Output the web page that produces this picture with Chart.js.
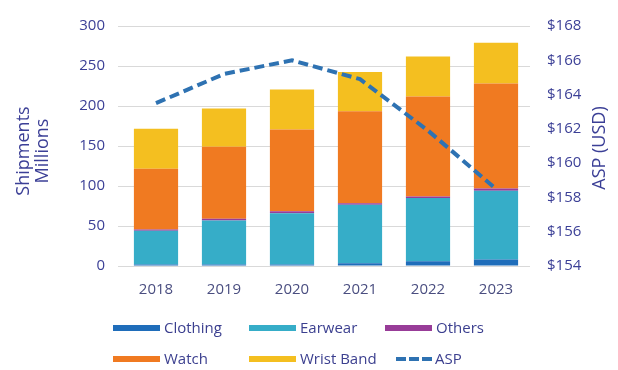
<!DOCTYPE html>
<html><head><meta charset="utf-8">
<script src="https://cdn.jsdelivr.net/npm/chart.js@4.4.1/dist/chart.umd.min.js"></script>
<style>
html,body{margin:0;padding:0;background:#fff;}
#wrap{position:relative;width:618px;height:370px;overflow:hidden;background:#fff;}
canvas{position:absolute;left:0;top:0;}
.lt{position:absolute;font-family:'Open Sans';font-size:15px;color:#3b3f8f;white-space:nowrap;line-height:20px;}
.sw{position:absolute;height:6px;width:47px;}
.dash{position:absolute;height:4px;width:10px;}
</style></head><body>
<div id="wrap"><canvas id="c" width="618" height="370"></canvas><div id="legend"></div></div>
<script>
// ---- data ----
const categories = ['2018', '2019', '2020', '2021', '2022', '2023'];
const clothing   = [2, 2, 2, 3.5, 6, 8];
const earwear    = [42, 55, 64, 73, 79, 86];
const others     = [1.5, 2, 2.5, 2, 2, 3];
const watch      = [76, 90, 102, 115, 125, 131];
const wristBand  = [50, 48, 50, 49, 50, 51];
const asp        = [163.5, 165.2, 166.0, 164.9, 161.9, 158.5];
const shipmentRange = [0, 300, 50];
const aspRange      = [154, 168, 2];

const C = {clothing:'#1f6dba', earwear:'#36adc8', others:'#983c98', watch:'#f07a21', wrist:'#f4bf20', asp:'#2e72b2'};
const TXT = '#3b3f96';

function bar(label, data, color){
  return {type:'bar', label, data, backgroundColor:color, borderWidth:0, yAxisID:'y', stack:'s', order:1,
          barPercentage:0.65, categoryPercentage:1};
}

const titlePlugin = {
  id:'axisTitles',
  afterDraw(chart){
    const ctx = chart.ctx, a = chart.chartArea;
    const cy = (a.top + a.bottom)/2 + 5;
    ctx.save();
    ctx.fillStyle = TXT;
    ctx.font = "18px 'Open Sans'";
    ctx.textAlign = 'center';
    ctx.textBaseline = 'middle';
    ctx.save(); ctx.translate(24, cy); ctx.rotate(-Math.PI/2); ctx.fillText('Shipments', 0, 0); ctx.restore();
    ctx.save(); ctx.translate(43, cy); ctx.rotate(-Math.PI/2); ctx.fillText('Millions', 0, 0); ctx.restore();
    ctx.save(); ctx.translate(600, cy - 3); ctx.rotate(-Math.PI/2); ctx.fillText('ASP (USD)', 0, 0); ctx.restore();
    ctx.restore();
  }
};

function build(){
  new Chart(document.getElementById('c'), {
    data:{
      labels: categories,
      datasets:[
        bar('Clothing', clothing, C.clothing),
        bar('Earwear', earwear, C.earwear),
        bar('Others', others, C.others),
        bar('Watch', watch, C.watch),
        bar('Wrist Band', wristBand, C.wrist),
        {type:'line', label:'ASP', data:asp, yAxisID:'y1', order:0, borderColor:C.asp, borderWidth:4,
         borderDash:[10,5], pointRadius:0, tension:0, fill:false}
      ]
    },
    options:{
      responsive:false, animation:false,
      layout:{padding:{left:0,right:0,top:17,bottom:0}},
      plugins:{legend:{display:false}, tooltip:{enabled:false}},
      scales:{
        x:{
          stacked:true,
          grid:{display:false, drawTicks:false},
          border:{display:false},
          ticks:{color:'#4a4e80', font:{family:'Open Sans', size:15}, padding:15},
          afterFit(s){ s.height = 104; }
        },
        y:{
          position:'left', stacked:true,
          min:shipmentRange[0], max:shipmentRange[1],
          grid:{color:'#d9d9d9', lineWidth:1, tickLength:4, tickColor:'#d9d9d9'},
          border:{display:false},
          ticks:{stepSize:shipmentRange[2], color:TXT, font:{family:'Open Sans', size:15}, padding:13},
          afterFit(s){ s.width = 122; }
        },
        y1:{
          position:'right',
          min:aspRange[0], max:aspRange[1],
          grid:{display:false, drawTicks:false},
          border:{display:false},
          ticks:{stepSize:aspRange[2], color:TXT, font:{family:'Open Sans', size:15}, padding:17,
                 callback:v => '$' + v},
          afterFit(s){ s.width = 88; }
        }
      }
    },
    plugins:[titlePlugin]
  });

  // legend (HTML)
  const items = [
    {label:'Clothing', color:C.clothing, x:113, row:0},
    {label:'Earwear', color:C.earwear, x:249, row:0},
    {label:'Others', color:C.others, x:385, row:0},
    {label:'Watch', color:C.watch, x:113, row:1},
    {label:'Wrist Band', color:C.wrist, x:249, row:1},
    {label:'ASP', color:C.asp, x:396, row:1, dash:true}
  ];
  const lg = document.getElementById('legend');
  const rowY = [328, 359];
  items.forEach(it => {
    const cy = rowY[it.row];
    if (it.dash){
      for (let i=0;i<3;i++){
        const d = document.createElement('div'); d.className='dash';
        d.style.left = (it.x + i*13) + 'px'; d.style.top = (cy-2) + 'px'; d.style.background = it.color;
        lg.appendChild(d);
      }
      const t = document.createElement('div'); t.className='lt'; t.textContent = it.label;
      t.style.left = (it.x + 39) + 'px'; t.style.top = (cy-11) + 'px'; lg.appendChild(t);
    } else {
      const s = document.createElement('div'); s.className='sw';
      s.style.left = it.x + 'px'; s.style.top = (cy-3) + 'px'; s.style.background = it.color;
      lg.appendChild(s);
      const t = document.createElement('div'); t.className='lt'; t.textContent = it.label;
      t.style.left = (it.x + 51) + 'px'; t.style.top = (cy-11) + 'px'; lg.appendChild(t);
    }
  });
}

Promise.all([
  document.fonts.load("15px 'Open Sans'"),
  document.fonts.load("18px 'Open Sans'")
]).then(build, build);
</script>
</body></html>
